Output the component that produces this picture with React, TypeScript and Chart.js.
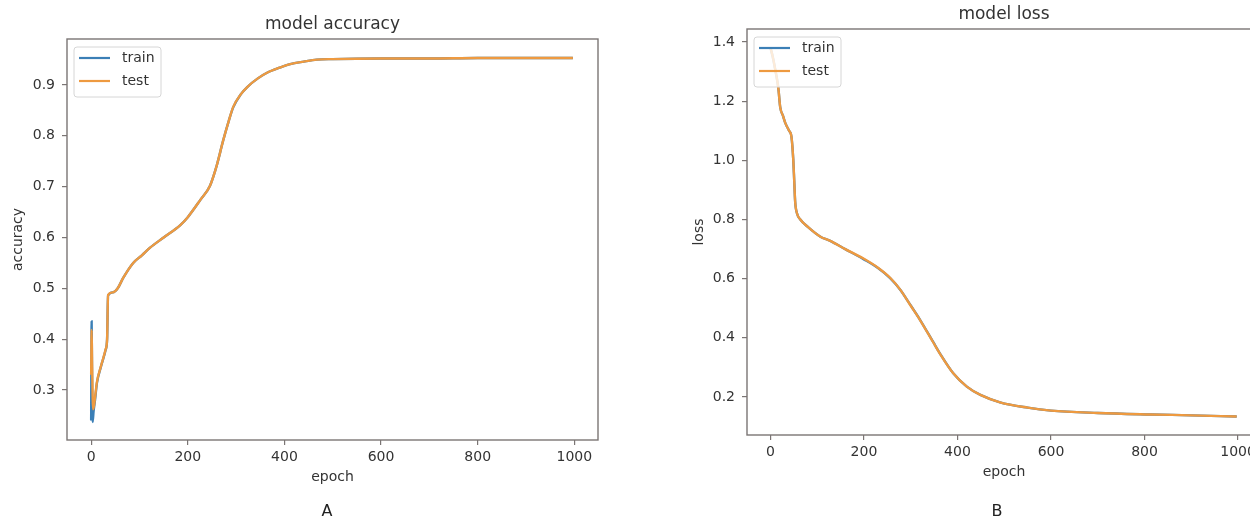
import React, { useEffect, useRef } from "react";
import { Chart, registerables } from "chart.js";

Chart.register(...registerables);

// ---------- data ----------
const SERIES_LABELS = ["train", "test"];

const ACC_TRAIN_EPOCHS = [0, 1, 2, 3, 5, 8, 12, 20, 30, 33, 35, 45, 55, 66, 87, 105, 122, 150, 184, 200, 226, 246, 260, 273, 285, 294, 310, 323, 345, 364, 390, 412, 440, 467, 500, 600, 700, 800, 900, 997];
const ACC_TRAIN = [0.24, 0.435, 0.3, 0.237, 0.258, 0.28, 0.314, 0.345, 0.379, 0.4, 0.486, 0.492, 0.5, 0.52, 0.55, 0.565, 0.58, 0.6, 0.624, 0.64, 0.674, 0.702, 0.742, 0.79, 0.83, 0.856, 0.882, 0.896, 0.913, 0.924, 0.934, 0.941, 0.946, 0.95, 0.951, 0.952, 0.952, 0.953, 0.953, 0.953];

const ACC_TEST_EPOCHS = [0, 1, 2, 4, 6, 8, 12, 20, 30, 33, 35, 45, 55, 66, 87, 105, 122, 150, 184, 200, 226, 246, 260, 273, 285, 294, 310, 323, 345, 364, 390, 412, 440, 467, 500, 600, 700, 800, 900, 997];
const ACC_TEST = [0.33, 0.418, 0.35, 0.262, 0.27, 0.285, 0.316, 0.346, 0.38, 0.4, 0.487, 0.492, 0.5, 0.52, 0.55, 0.565, 0.58, 0.6, 0.624, 0.64, 0.674, 0.702, 0.742, 0.79, 0.83, 0.857, 0.882, 0.896, 0.913, 0.924, 0.934, 0.941, 0.946, 0.95, 0.951, 0.952, 0.952, 0.953, 0.953, 0.953];

const LOSS_EPOCHS = [0, 5, 10, 17, 21, 27, 32, 40, 45, 49, 51, 53, 57, 64, 80, 107, 128, 160, 199, 230, 256, 278, 299, 320, 348, 363, 391, 420, 449, 491, 550, 600, 700, 812, 900, 997];
const LOSS_TRAIN = [1.382, 1.35, 1.31, 1.244, 1.18, 1.15, 1.126, 1.1, 1.08, 1.0, 0.93, 0.86, 0.82, 0.8, 0.775, 0.742, 0.728, 0.7, 0.666, 0.636, 0.602, 0.562, 0.512, 0.461, 0.386, 0.346, 0.28, 0.235, 0.207, 0.182, 0.164, 0.154, 0.146, 0.141, 0.138, 0.134];
const LOSS_TEST = [1.382, 1.35, 1.31, 1.244, 1.18, 1.15, 1.126, 1.1, 1.08, 1.0, 0.93, 0.86, 0.82, 0.8, 0.775, 0.742, 0.728, 0.7, 0.668, 0.637, 0.603, 0.562, 0.511, 0.46, 0.385, 0.345, 0.28, 0.235, 0.207, 0.182, 0.164, 0.154, 0.146, 0.141, 0.138, 0.134];

const X_TICKS = [0, 200, 400, 600, 800, 1000];
const ACC_TICKS = [0.3, 0.4, 0.5, 0.6, 0.7, 0.8, 0.9];
const LOSS_TICKS = [0.2, 0.4, 0.6, 0.8, 1.0, 1.2, 1.4];

// ---------- styles ----------
const FONT = '"DejaVu Sans", sans-serif';
const TEXT = "#333333";
const AXIS = "#7b7574";
const BLUE = "#3b7fb6";
const ORANGE = "#ee9a40";

const toPoints = (xs: number[], ys: number[]) => xs.map((x, i) => ({ x, y: ys[i] }));

const framePlugin = {
  id: "frame",
  afterDatasetsDraw(chart: any, _args: any, opts: any) {
    const { ctx, chartArea: a } = chart;
    ctx.save();
    ctx.strokeStyle = AXIS;
    ctx.lineWidth = 1.4;
    ctx.strokeRect(a.left, a.top, a.right - a.left, a.bottom - a.top);
    ctx.fillStyle = TEXT;
    ctx.font = `17px ${FONT}`;
    ctx.textAlign = "center";
    ctx.textBaseline = "alphabetic";
    ctx.fillText(opts.title, (a.left + a.right) / 2, a.top - 10);
    const bx = a.left + 7;
    const by = a.top + 8;
    const bw = 87;
    const bh = 50;
    ctx.beginPath();
    ctx.roundRect(bx, by, bw, bh, 3);
    ctx.fillStyle = "rgba(255,255,255,0.8)";
    ctx.fill();
    ctx.strokeStyle = "#d6d6d6";
    ctx.lineWidth = 1;
    ctx.stroke();
    const colors = [BLUE, ORANGE];
    ctx.font = `14px ${FONT}`;
    ctx.textAlign = "left";
    ctx.textBaseline = "middle";
    SERIES_LABELS.forEach((lab, i) => {
      const y = by + 11 + i * 23;
      ctx.strokeStyle = colors[i];
      ctx.lineWidth = 2.2;
      ctx.beginPath();
      ctx.moveTo(bx + 5, y);
      ctx.lineTo(bx + 36, y);
      ctx.stroke();
      ctx.fillStyle = TEXT;
      ctx.fillText(lab, bx + 48, y);
    });
    ctx.restore();
  },
};

type Cfg = {
  title: string;
  yTitle: string;
  yMin: number;
  yMax: number;
  yTicks: number[];
  train: { x: number; y: number }[];
  test: { x: number; y: number }[];
  padding: { left: number; right: number; top: number; bottom: number };
  yWidth: number;
  yTitlePad: number;
};

function makeConfig(c: Cfg): any {
  return {
    type: "line",
    data: {
      datasets: [
        { label: SERIES_LABELS[0], data: c.train, order: 1, borderColor: BLUE, borderWidth: 2.4, pointRadius: 0, cubicInterpolationMode: "monotone", fill: false },
        { label: SERIES_LABELS[1], data: c.test, order: 0, borderColor: ORANGE, borderWidth: 2.4, pointRadius: 0, cubicInterpolationMode: "monotone", fill: false },
      ],
    },
    options: {
      responsive: false,
      animation: false,
      events: [],
      layout: { padding: c.padding },
      plugins: {
        legend: { display: false },
        title: { display: false },
        tooltip: { enabled: false },
        frame: { title: c.title },
      },
      scales: {
        x: {
          type: "linear",
          min: -50,
          max: 1049,
          afterFit: (s: any) => { s.height = 50; },
          afterBuildTicks: (s: any) => { s.ticks = X_TICKS.map((v) => ({ value: v })); },
          border: { display: false },
          grid: { display: true, drawOnChartArea: false, drawTicks: true, tickLength: 5, color: AXIS, lineWidth: 1.2 },
          ticks: { color: TEXT, font: { family: FONT, size: 14 }, padding: 4, maxRotation: 0, callback: (v: number) => String(v) },
          title: { display: true, text: "epoch", color: TEXT, font: { family: FONT, size: 14 }, padding: { top: 0, bottom: 4 } },
        },
        y: {
          type: "linear",
          min: c.yMin,
          max: c.yMax,
          afterFit: (s: any) => { s.width = c.yWidth; },
          afterBuildTicks: (s: any) => { s.ticks = c.yTicks.map((v) => ({ value: v })); },
          border: { display: false },
          grid: { display: true, drawOnChartArea: false, drawTicks: true, tickLength: 5, color: AXIS, lineWidth: 1.2 },
          ticks: { color: TEXT, font: { family: FONT, size: 14 }, padding: 7, callback: (v: number) => v.toFixed(1) },
          title: { display: true, text: c.yTitle, color: TEXT, font: { family: FONT, size: 14 }, padding: { top: c.yTitlePad, bottom: 0 } },
        },
      },
    },
    plugins: [framePlugin],
  };
}

function ChartCanvas({ cfg, width, height }: { cfg: Cfg; width: number; height: number }) {
  const ref = useRef<HTMLCanvasElement | null>(null);
  useEffect(() => {
    if (!ref.current) return;
    const chart = new Chart(ref.current, makeConfig(cfg));
    return () => chart.destroy();
  }, []);
  return <canvas ref={ref} width={width} height={height} style={{ width, height, display: "block" }} />;
}

export default function App() {
  const accCfg: Cfg = {
    title: "model accuracy",
    yTitle: "accuracy",
    yMin: 0.2016,
    yMax: 0.9905,
    yTicks: ACC_TICKS,
    train: toPoints(ACC_TRAIN_EPOCHS, ACC_TRAIN),
    test: toPoints(ACC_TEST_EPOCHS, ACC_TEST),
    padding: { left: 0, right: 22, top: 39, bottom: 31 },
    yWidth: 67,
    yTitlePad: 10,
  };
  const lossCfg: Cfg = {
    title: "model loss",
    yTitle: "loss",
    yMin: 0.0715,
    yMax: 1.444,
    yTicks: LOSS_TICKS,
    train: toPoints(LOSS_EPOCHS, LOSS_TRAIN),
    test: toPoints(LOSS_EPOCHS, LOSS_TEST),
    padding: { left: 60, right: 19, top: 29, bottom: 36 },
    yWidth: 67,
    yTitlePad: 11,
  };
  const labelStyle: React.CSSProperties = {
    position: "absolute",
    top: 502,
    fontFamily: FONT,
    fontSize: 16,
    color: "#222",
    lineHeight: "18px",
    transform: "translateX(-50%)",
  };
  return (
    <div style={{ position: "absolute", left: 0, top: 0, width: 1250, height: 521, overflow: "hidden", background: "#fff" }}>
      <div style={{ position: "absolute", left: 0, top: 0, width: 620, height: 521 }}>
        <ChartCanvas cfg={accCfg} width={620} height={521} />
      </div>
      <div style={{ position: "absolute", left: 620, top: 0, width: 630, height: 521, overflow: "hidden" }}>
        <ChartCanvas cfg={lossCfg} width={660} height={521} />
      </div>
      <div style={{ ...labelStyle, left: 327 }}>A</div>
      <div style={{ ...labelStyle, left: 997 }}>B</div>
    </div>
  );
}
